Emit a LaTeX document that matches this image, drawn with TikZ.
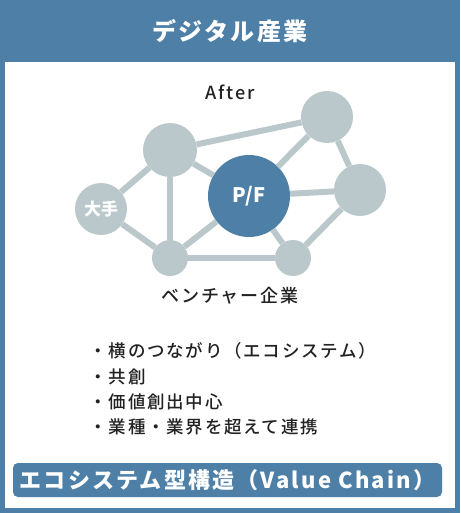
\documentclass[tikz,border=0pt]{standalone}
\usepackage{fontspec}
\setmainfont{Noto Sans CJK JP}
\newfontfamily\spacedjp[LetterSpace=10,UprightFont=* Medium]{Noto Sans CJK JP}
\definecolor{hdrblue}{HTML}{4E7FA6}
\definecolor{dotgray}{HTML}{BAC8CB}
\definecolor{inkgray}{HTML}{222222}
\begin{document}
\begin{tikzpicture}[x=1pt,y=-1pt,
    dot/.style={circle,fill=dotgray,inner sep=0pt,minimum size=#1},
    link/.style={draw=dotgray,line width=6pt},
    lbl/.style={text=inkgray,font=\spacedjp\fontsize{18}{21}\selectfont},
    item/.style={text=inkgray,anchor=west,font=\spacedjp\fontsize{17.5}{20}\selectfont}]
    \fill[hdrblue] (0,0) rectangle (460,513);
    \fill[white] (5,62) rectangle (455,508);
    \node[text=white,font=\bfseries\spacedjp\fontsize{24}{28}\selectfont] (title) at (230,31) {デジタル産業};
    \node[lbl] (after) at (230,92) {After};
    % network
    \node[dot=52pt] (tr) at (327,117) {};
    \node[dot=54pt] (tl) at (170,150) {};
    \node[dot=52pt,text=white,font=\bfseries\fontsize{17}{20}\selectfont] (big) at (101,209) {大手};
    \node[dot=52pt] (rt) at (360,190) {};
    \node[dot=36pt] (bl) at (170,258) {};
    \node[dot=36pt] (br) at (293,258) {};
    \node[circle,fill=hdrblue,inner sep=0pt,minimum size=82pt,text=white,font=\bfseries\fontsize{20}{24}\selectfont] (pf) at (249,196) {P/F};
    \draw[link] (big) -- (tl);
    \draw[link] (big) -- (bl);
    \draw[link] (tl) -- (bl);
    \draw[link] (tl) -- (pf);
    \draw[link] (tl) -- (tr);
    \draw[link] (tr) -- (pf);
    \draw[link] (tr) -- (rt);
    \draw[link] (pf) -- (rt);
    \draw[link] (rt) -- (br);
    \draw[link] (bl) -- (br);
    \draw[link] (pf) -- (bl);
    \draw[link] (pf) -- (br);
    \node[lbl] (venture) at (230,296) {ベンチャー企業};
    % list
    \node[item] (i1) at (86,351) {・横のつながり（エコシステム）};
    \node[item] (i2) at (86,377) {・共創};
    \node[item] (i3) at (86,402) {・価値創出中心};
    \node[item] (i4) at (86,427) {・業種・業界を超えて連携};
    \node[fill=hdrblue,rounded corners=5pt,minimum width=429pt,minimum height=34pt,text=white,font=\bfseries\spacedjp\fontsize{22}{26}\selectfont] (eco) at (227.5,480) {エコシステム型構造（Value Chain）};
\end{tikzpicture}
\end{document}
